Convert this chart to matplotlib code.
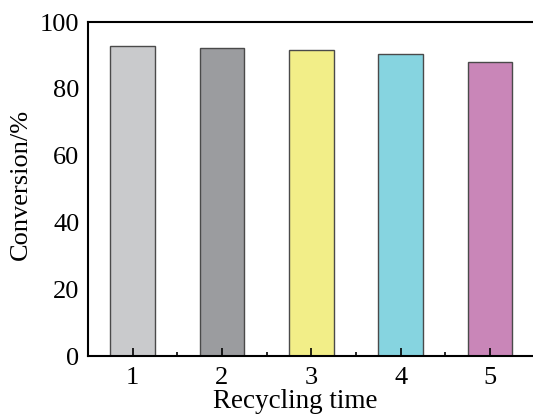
import matplotlib.pyplot as plt
from matplotlib.ticker import MultipleLocator

plt.rcParams['font.family'] = ['Liberation Serif', 'DejaVu Serif']

cycles = [1, 2, 3, 4, 5]
conversion = [92.8, 92.2, 91.6, 90.5, 88.1]
colors = ['#c9cacc', '#9b9c9f', '#f2ee88', '#86d4e0', '#c986b8']

fig = plt.figure(figsize=(5.33, 4.16), dpi=100)
ax = fig.add_axes([0.165, 0.144, 0.838, 0.803])

ax.bar(cycles, conversion, width=0.5, color=colors, edgecolor='#4a4a4a', linewidth=1.0)

ax.set_xlim(0.5, 5.5)
ax.set_ylim(0, 100)
ax.set_xticks(cycles)
ax.xaxis.set_minor_locator(MultipleLocator(0.5))
ax.set_yticks([0, 20, 40, 60, 80, 100])

ax.tick_params(axis='x', which='major', direction='in', length=6, width=1.2, labelsize=19, pad=7.5)
ax.tick_params(axis='x', which='minor', direction='in', length=3, width=1.2)
ax.tick_params(axis='y', which='both', length=0, labelsize=19, pad=6)

for s in ax.spines.values():
    s.set_linewidth(1.5)

ax.set_xlabel('Recycling time', fontsize=19.5)
ax.xaxis.set_label_coords(0.464, -0.099)
ax.set_ylabel('Conversion/%', fontsize=19)
ax.yaxis.set_label_coords(-0.125, 0.515)

fig.savefig('out.png', dpi=100)
